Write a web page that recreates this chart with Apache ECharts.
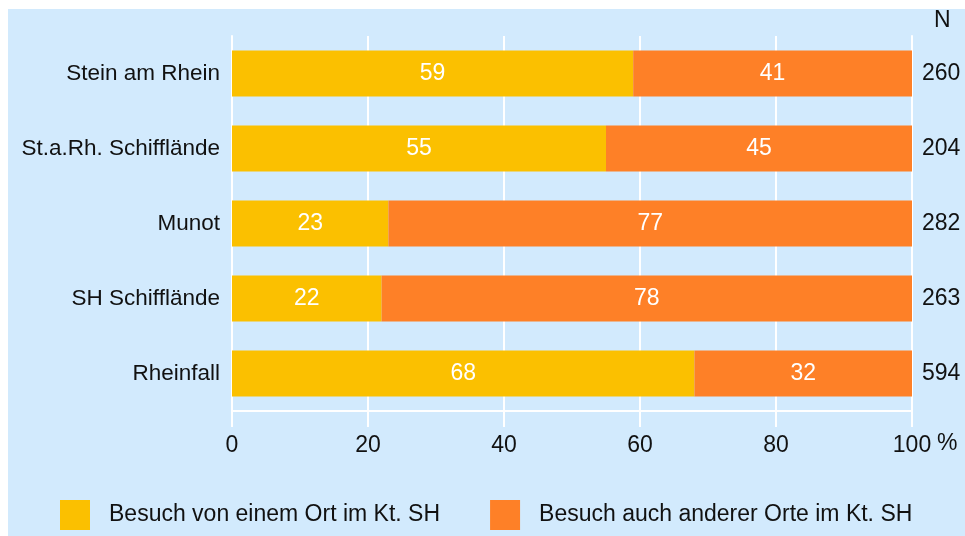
<!DOCTYPE html>
<html>
<head>
<meta charset="utf-8">
<script src="https://cdn.jsdelivr.net/npm/echarts@6/dist/echarts.min.js"></script>
<style>
  html, body { margin: 0; padding: 0; background: #fff; }
  #chart { width: 965px; height: 536px; }
</style>
</head>
<body>
<div id="chart"></div>
<script>
const places = ['Stein am Rhein', 'St.a.Rh. Schifflände', 'Munot', 'SH Schifflände', 'Rheinfall'];
const oneSite = [59, 55, 23, 22, 68];
const otherSites = [41, 45, 77, 78, 32];
const nCounts = [260, 204, 282, 263, 594];
const xTicks = [0, 20, 40, 60, 80, 100];

const FONT = '"Liberation Sans", Arial, Helvetica, sans-serif';
const LINE = '#ffffff';
const FS = 23;

const chart = echarts.init(document.getElementById('chart'));

chart.setOption({
  backgroundColor: '#fff',
  animation: false,
  textStyle: { fontFamily: FONT },
  graphic: [
    {
      type: 'rect',
      z: -10,
      shape: { x: 8, y: 9, width: 957, height: 527 },
      style: { fill: '#d2eafd' }
    }
  ],
  grid: { left: 232, right: 53, top: 36, bottom: 125 },
  legend: {
    left: 55,
    top: 495,
    itemWidth: 30,
    itemHeight: 30,
    itemGap: 50,
    icon: 'rect',
    textStyle: { fontSize: FS, color: '#111', fontFamily: FONT, padding: [0, 0, 0, 14] },
    data: ['Besuch von einem Ort im Kt. SH', 'Besuch auch anderer Orte im Kt. SH']
  },
  xAxis: {
    type: 'value',
    min: xTicks[0],
    max: xTicks[xTicks.length - 1],
    interval: 20,
    name: '%',
    nameLocation: 'end',
    nameGap: 25,
    nameTextStyle: { fontSize: FS, color: '#111', verticalAlign: 'top', lineHeight: 66 },
    axisLine: { show: true, lineStyle: { color: LINE, width: 2 } },
    axisTick: { show: true, length: 16, lineStyle: { color: LINE, width: 2 } },
    splitLine: { show: true, lineStyle: { color: LINE, width: 2 } },
    axisLabel: { fontSize: FS, color: '#111', margin: 23 }
  },
  yAxis: [
    {
      type: 'category',
      inverse: true,
      data: places,
      axisLine: { show: true, lineStyle: { color: LINE, width: 2 } },
      axisTick: { show: false },
      axisLabel: { fontSize: 22.5, color: '#111', margin: 12 }
    },
    {
      type: 'category',
      inverse: true,
      position: 'right',
      data: nCounts.map(String),
      name: 'N',
      nameLocation: 'start',
      nameGap: 4,
      nameTextStyle: { fontSize: FS, color: '#111', align: 'left', padding: [0, 0, 0, 22] },
      axisLine: { show: true, lineStyle: { color: LINE, width: 2 } },
      axisTick: { show: false },
      axisLabel: { fontSize: FS, color: '#111', margin: 10, align: 'left' }
    }
  ],
  series: [
    {
      name: 'Besuch von einem Ort im Kt. SH',
      type: 'bar',
      stack: 'total',
      barWidth: 46,
      data: oneSite,
      itemStyle: { color: '#fbc000' },
      label: { show: true, position: 'inside', color: '#fff', fontSize: FS }
    },
    {
      name: 'Besuch auch anderer Orte im Kt. SH',
      type: 'bar',
      stack: 'total',
      barWidth: 46,
      data: otherSites,
      itemStyle: { color: '#fe8027' },
      label: { show: true, position: 'inside', color: '#fff', fontSize: FS }
    }
  ]
});
</script>
</body>
</html>
